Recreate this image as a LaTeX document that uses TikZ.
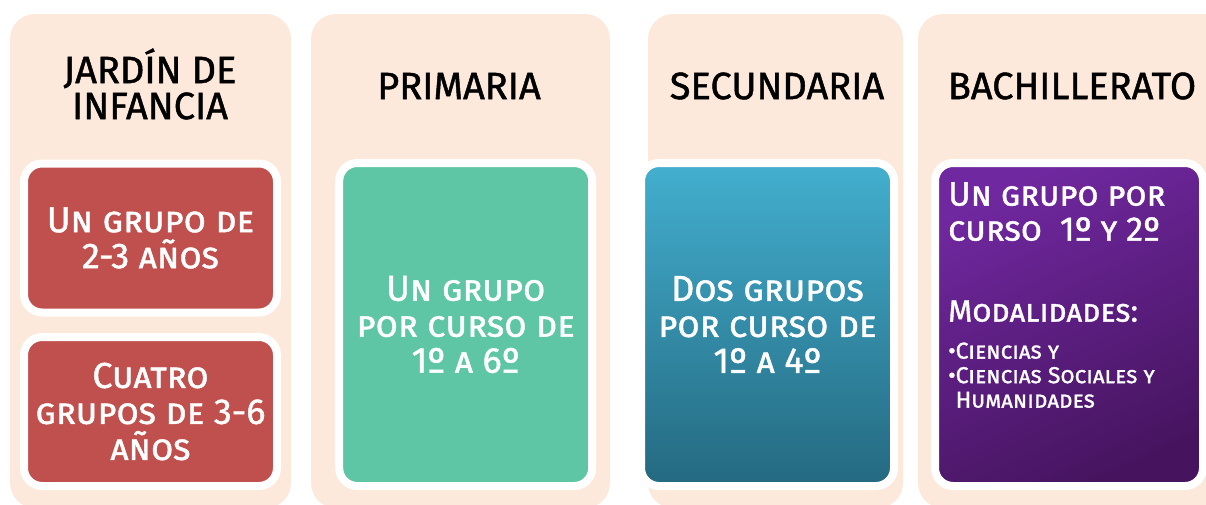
\documentclass[tikz,border=0pt]{standalone}
\usepackage{fontspec}
\setmainfont{Fira Sans}[FakeBold=1.2]
\usetikzlibrary{shadows}

\definecolor{peach}{HTML}{FCE9DB}
\definecolor{boxred}{HTML}{C0504D}
\definecolor{boxgreen}{HTML}{5EC6A4}
\definecolor{bluetop}{HTML}{43AFCF}
\definecolor{bluebottom}{HTML}{246980}
\definecolor{purpletop}{HTML}{7028A0}
\definecolor{purplebottom}{HTML}{46145F}

\begin{document}
\begin{tikzpicture}[x=1pt, y=-1pt,
    column/.style={fill=peach, rounded corners=25pt, inner sep=0pt, minimum height=494pt},
    level title/.style={font=\fontsize{38}{36}\selectfont, align=center, inner sep=0pt},
    group box/.style={draw=white, line width=8pt, rounded corners=18pt, text=white,
      minimum width=253pt, minimum height=149pt, align=center,
      font=\fontsize{36}{36}\selectfont\scshape,
      drop shadow={opacity=0.3, shadow xshift=0.5pt, shadow yshift=-3pt}}]

\useasboundingbox (0,0) rectangle (1206,504);

\foreach \name/\cx/\w in {jardin/150.5/281, primaria/460.5/299, secundaria/775.5/255, bachillerato/1079/322}
  \node [column, minimum width=\w pt] (col-\name) at (\cx,261) {};

\node [level title] (title-jardin) at (150,84) {JARDÍN DE\\INFANCIA};
\node [level title] (title-primaria) at (459,86) {PRIMARIA};
\node [level title] (title-secundaria) at (777,86) {SECUNDARIA};
\node [level title] (title-bachillerato) at (1072,86) {BACHILLERATO};

\node [group box, fill=boxred] (jardin-1) at (150.5,238) {Un grupo de\\2-3 años};
\node [group box, fill=boxred] (jardin-2) at (150.5,411.5) {Cuatro\\grupos de 3-6\\años};

\node [group box, fill=boxgreen, minimum height=323pt] (primaria-box) at (465.7,324.5)
  {Un grupo\\por curso de\\1º a 6º};
\node [group box, top color=bluetop, bottom color=bluebottom, minimum height=323pt] (secundaria-box) at (767.5,324.5)
  {Dos grupos\\por curso de\\1º a 4º};
\node [group box, top color=purpletop, bottom color=purplebottom, shading angle=25,
  minimum width=268pt, minimum height=323pt] (bachillerato-box) at (1069,324.5) {};

%% texto del bachillerato, alineado a la izquierda
\node [anchor=north west, text width=255pt, align=left, inner sep=0pt, text=white] (bachillerato-text) at (948,182) {
  \spaceskip=0pt \xspaceskip=0pt
  {\fontsize{34}{35}\selectfont\scshape Un grupo por\\curso\ \ 1º y 2º\par}
  \vspace{50pt}
  {\fontsize{31}{31}\selectfont\scshape Modalidades:\par}
  \vspace{12.5pt}
  {\fontsize{23}{24.5}\selectfont\scshape •Ciencias y\\•Ciencias Sociales y\\\phantom{•}Humanidades\par}
};

\end{tikzpicture}
\end{document}
